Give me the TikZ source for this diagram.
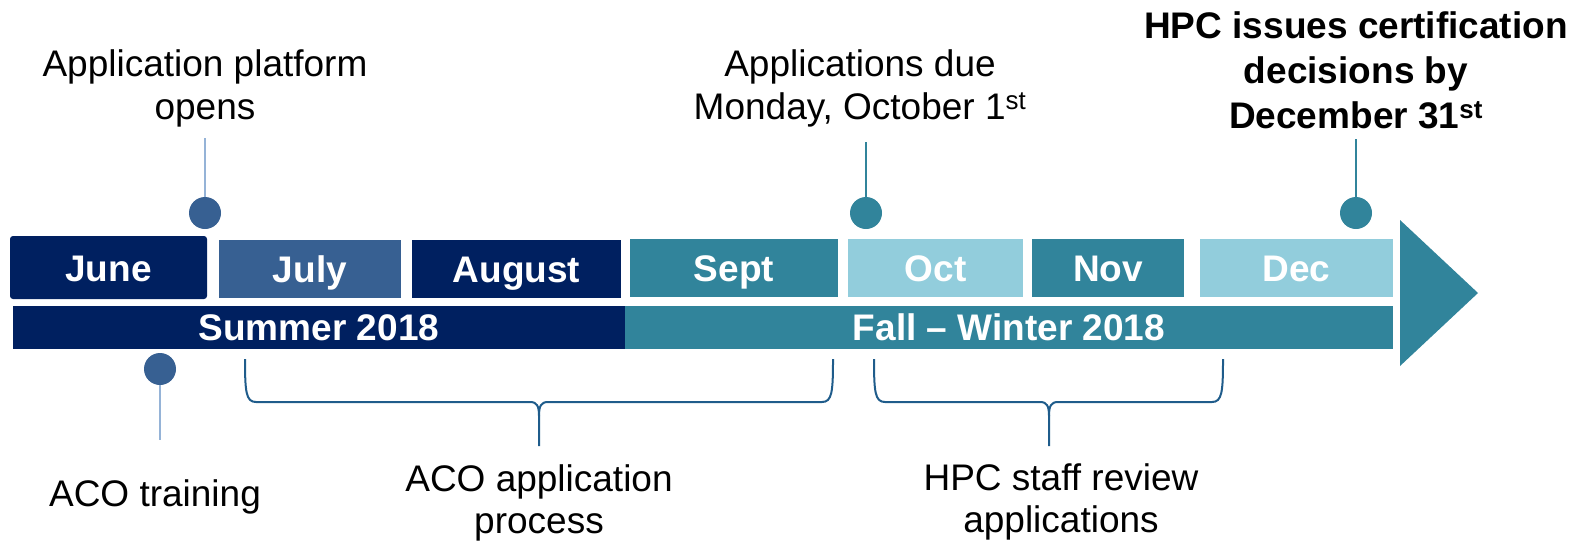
\documentclass[tikz,border=0pt]{standalone}
\usepackage{fontspec}
\setmainfont{Liberation Sans}
\definecolor{navy}{HTML}{002060}
\definecolor{steel}{HTML}{376092}
\definecolor{teal}{HTML}{31849B}
\definecolor{lightteal}{HTML}{92CDDC}
\definecolor{pinlight}{HTML}{95B3D7}
\definecolor{bracecol}{HTML}{1F5C8B}
\tikzset{
  month/.style={fill=#1, inner sep=0pt, text=white, font=\fontsize{37}{43}\selectfont\bfseries, text height=27pt, text depth=0pt},
  season/.style={fill=#1, inner sep=0pt, text=white, font=\fontsize{37}{43}\selectfont\bfseries, text height=26pt, text depth=0pt},
  lbl/.style={anchor=base, inner sep=0pt, text=black, font=\fontsize{37}{43}\selectfont},
  blbl/.style={anchor=base, inner sep=0pt, text=black, font=\fontsize{37}{43}\selectfont\bfseries},
  dot/.style={circle, fill=#1, inner sep=0pt, minimum size=32pt},
  pin/.style={draw=#1, line width=2pt},
  bracket/.style={draw=bracecol, line width=2pt, line join=round}
}
\begin{document}
\begin{tikzpicture}[x=1pt, y=-1pt]
\useasboundingbox (0,0) rectangle (1586,544);
% season bars
\node[season=navy, minimum width=612pt, minimum height=43pt] (summer) at (319,327.5) {Summer 2018};
\node[season=teal, minimum width=768pt, minimum height=43pt] (fall) at (1009,327.5) {Fall -- Winter 2018};
% arrow head
\fill[teal] (1400,220) -- (1478,293) -- (1400,366) -- cycle;
% months
\node[month=navy, minimum width=197pt, minimum height=63pt, rounded corners=3pt] (june) at (108.5,267.5) {June};
\node[month=steel, minimum width=182pt, minimum height=58pt] (july) at (310,269) {July};
\node[month=navy, minimum width=209pt, minimum height=58pt] (aug) at (516.5,269) {August};
\node[month=teal, minimum width=208pt, minimum height=58pt] (sept) at (734,268) {Sept};
\node[month=lightteal, minimum width=175pt, minimum height=58pt] (oct) at (935.5,268) {Oct};
\node[month=teal, minimum width=152pt, minimum height=58pt] (nov) at (1108,268) {Nov};
\node[month=lightteal, minimum width=193pt, minimum height=58pt] (dec) at (1296.5,268) {Dec};
% pins
\node[dot=steel] (dplat) at (205,213) {};
\coordinate (tplat) at (205,138);
\draw[pin=pinlight] (tplat) -- (dplat);
\node[dot=teal] (ddue) at (866,213) {};
\coordinate (tdue) at (866,142);
\draw[pin=teal] (tdue) -- (ddue);
\node[dot=teal] (dhpc) at (1356,213) {};
\coordinate (thpc) at (1356,139);
\draw[pin=teal] (thpc) -- (dhpc);
\node[dot=steel] (dtrain) at (160,369) {};
\coordinate (btrain) at (160,440);
\draw[pin=pinlight] (dtrain) -- (btrain);
% brackets
\draw[bracket] (245,359) .. controls (245,392) and (246,402) .. (256,402)
  -- (530,402) .. controls (537,402) and (539,406) .. (539,416) -- (539,446);
\draw[bracket] (833,359) .. controls (833,392) and (832,402) .. (822,402)
  -- (548,402) .. controls (541,402) and (539,406) .. (539,416);
\draw[bracket] (874,359) .. controls (874,392) and (875,402) .. (885,402)
  -- (1040,402) .. controls (1047,402) and (1049,406) .. (1049,416) -- (1049,446);
\draw[bracket] (1223,359) .. controls (1223,392) and (1222,402) .. (1212,402)
  -- (1058,402) .. controls (1051,402) and (1049,406) .. (1049,416);
% labels
\node[lbl] (plat1) at (205,76) {Application platform};
\node[lbl] (plat2) at (205,119) {opens};
\node[lbl] (due1) at (860,76) {Applications due};
\node[lbl] (due2) at (860,119) {Monday, October 1\textsuperscript{st}};
\node[blbl] (hpc1) at (1356,38) {HPC issues certification};
\node[blbl] (hpc2) at (1356,83) {decisions by};
\node[blbl] (hpc3) at (1356,128) {December 31\textsuperscript{st}};
\node[lbl] (train) at (155,506) {ACO training};
\node[lbl] (proc1) at (539,491) {ACO application};
\node[lbl] (proc2) at (539,533) {process};
\node[lbl] (rev1) at (1061,490) {HPC staff review};
\node[lbl] (rev2) at (1061,532) {applications};
\end{tikzpicture}
\end{document}
